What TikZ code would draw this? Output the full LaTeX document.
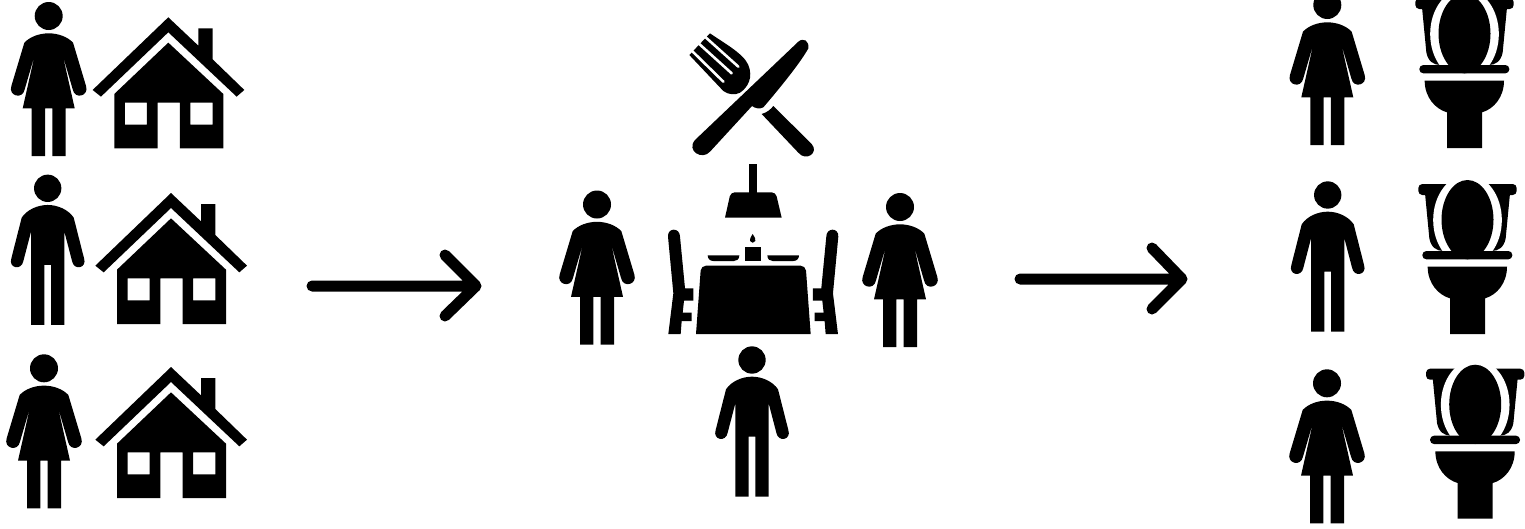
\documentclass[tikz,border=0pt]{standalone}
\tikzset{
  personf/.pic={\fill[scale=1/3] (0,0) circle (42)
    (0,52) .. controls (-28,52) and (-56,62) .. (-73,80) -- (-112,210)
    .. controls (-122,240) and (-78,252) .. (-72,220) -- (-42,117) -- (-78,277) -- (-51,277) -- (-51,420) -- (-11,420) -- (-11,277)
    -- (11,277) -- (11,420) -- (51,420) -- (51,277) -- (78,277) -- (42,117) -- (72,220)
    .. controls (78,252) and (122,240) .. (112,210) -- (73,80) .. controls (56,62) and (28,52) .. (0,52) -- cycle;},
  personm/.pic={\fill[scale=1/3] (0,0) circle (41)
    (0,50) .. controls (-30,50) and (-62,64) .. (-78,88) -- (-109,210)
    .. controls (-119,240) and (-78,248) .. (-73,218) -- (-50,130) -- (-50,410) -- (-10,410) -- (-10,230)
    -- (10,230) -- (10,410) -- (50,410) -- (50,130) -- (73,218)
    .. controls (78,248) and (119,240) .. (109,210) -- (78,88) .. controls (62,64) and (30,50) .. (0,50) -- cycle;},
  hut/.pic={\begin{scope}[scale=1/3]
    \fill (0,0) -- (90,85) -- (90,33) -- (133,33) -- (133,126) -- (228,218) -- (205,238) -- (0,45) -- (-202,238) -- (-227,218) -- cycle;
    \fill[even odd rule] (0,76) -- (165,230) -- (165,393) -- (35,393) -- (35,256) -- (-32,256) -- (-32,393) -- (-162,393) -- (-162,230) -- cycle
      (-130,256) rectangle (-64,322) (66,256) rectangle (133,322);
    \end{scope}},
  wc/.pic={\begin{scope}[scale=1/3]
    \fill[rounded corners=4pt] (415,42) rectangle (710,75);
    \fill (435,70) -- (448,205) .. controls (453,232) and (470,243) .. (490,243) -- (635,243) .. controls (655,243) and (672,232) .. (677,205) -- (690,70) -- cycle;
    \fill[white] (562.5,150) ellipse (103 and 136);
    \fill (562.5,149) ellipse (78 and 119);
    \fill[rounded corners=4pt] (427,243) rectangle (697,268);
    \fill (443,290) -- (681,290) .. controls (681,340) and (650,375) .. (615,385) -- (615,492) -- (510,492) -- (510,385) .. controls (475,375) and (443,340) .. (443,290) -- cycle;
    \end{scope}},
  seat/.pic={\fill[scale=1/3] (24,650) .. controls (22,622) and (60,622) .. (60,650) -- (75,805) -- (100,805) -- (100,842) -- (72,842) -- (68,878) -- (95,878) -- (95,903) -- (65,903) -- (62,942) -- (25,942) -- (40,820) -- cycle;},
  dining/.pic={\begin{scope}[scale=1/3]
    \fill (415,65) .. controls (430,52) and (448,62) .. (445,85) .. controls (425,122) and (370,192) .. (310,262) .. controls (300,268) and (285,265) .. (276,258) -- (150,395) .. controls (126,422) and (78,392) .. (105,360) -- cycle;
    \fill (340,258) -- (455,372) .. controls (478,398) and (438,426) .. (415,398) -- (305,282) .. controls (322,277) and (332,268) .. (340,258) -- cycle;
    \fill (150,40) .. controls (190,68) and (250,100) .. (265,135) .. controls (280,172) and (264,202) .. (240,218) .. controls (225,226) and (205,224) .. (190,213) -- (88,105) -- (150,40) -- cycle;
    \draw[white,line width=2.6pt,line cap=round] (128,44) -- (235,140) (109,64) -- (215,160) (88,85) -- (190,185);
    \fill (268,433) rectangle (292,520);
    \fill (195,593) [rounded corners=4pt] -- (212,517) -- (347,517) [sharp corners] -- (365,593) -- cycle;
    \fill (278,642) .. controls (272,652) and (268,658) .. (270,663) .. controls (273,670) and (283,670) .. (286,663) .. controls (288,658) and (284,652) .. (278,642) -- cycle;
    \fill (256,682) rectangle (303,723);
    \fill (143,706) -- (238,706) .. controls (238,718) and (230,723) .. (222,723) -- (160,723) .. controls (150,723) and (143,716) .. (143,706) -- cycle;
    \fill (322,706) -- (417,706) .. controls (417,716) and (410,723) .. (400,723) -- (338,723) .. controls (330,723) and (322,718) .. (322,706) -- cycle;
    \fill (108,942) [rounded corners=5pt] -- (123,737) -- (437,737) [sharp corners] -- (452,942) -- cycle;
    \end{scope}},
  headline/.style={line width=11pt,line cap=round,line join=round}
}
\begin{document}
\begin{tikzpicture}[x=1pt,y=-1pt]
\clip (0,0) rectangle (1525,528);
\fill[white] (0,0) rectangle (1525,528);
% left column
\pic at (48.7,16) {personf};
\pic at (168.3,17.3) {hut};
\pic at (47.7,188.3) {personm};
\pic at (171,193) {hut};
\pic at (44,368.3) {personf};
\pic at (171,367) {hut};
% first arrow
\coordinate (a1s) at (312,286);
\coordinate (a1e) at (476,286);
\coordinate (a1u) at (445,255);
\coordinate (a1d) at (445,316);
\draw[headline] (a1s) -- (a1e) (a1u) -- (a1e) -- (a1d);
% centre
\pic at (660,20) {dining};
\pic at (660,20) {seat};
\pic[xscale=-1] at (846.3,20) {seat};
\pic at (597,204.5) {personf};
\pic at (900,207) {personf};
\pic at (752,360) {personm};
% second arrow
\coordinate (a2s) at (1020,279);
\coordinate (a2e) at (1182,279);
\coordinate (a2u) at (1152,248);
\coordinate (a2d) at (1152,309);
\draw[headline] (a2s) -- (a2e) (a2u) -- (a2e) -- (a2d);
% right column
\pic at (1327.3,5) {personf};
\pic at (1277,-16) {wc};
\pic at (1327.7,195) {personm};
\pic at (1280,170) {wc};
\pic at (1327,383.3) {personf};
\pic at (1287.7,354.7) {wc};
\end{tikzpicture}
\end{document}
